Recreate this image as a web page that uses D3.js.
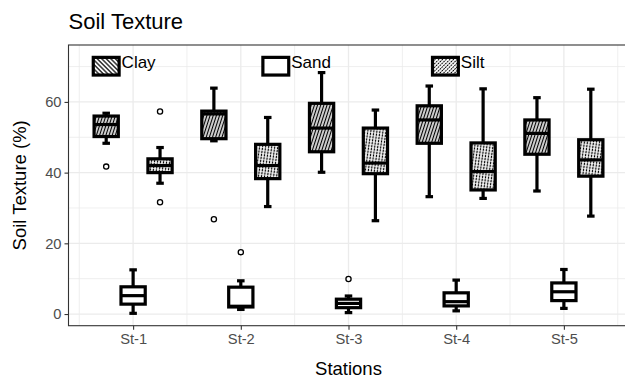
<!DOCTYPE html>
<html>
<head>
<meta charset="utf-8">
<script src="https://cdn.jsdelivr.net/npm/d3@7"></script>
<style>
  body { margin: 0; background: #fff; }
  #chart { width: 625px; height: 381px; }
  text { font-family: "Liberation Sans", Arial, sans-serif; }
</style>
</head>
<body>
<div id="chart"></div>
<script>
// datos
const stations = ['St-1', 'St-2', 'St-3', 'St-4', 'St-5'];
const seriesNames = ['Clay', 'Sand', 'Silt'];
const yTicks = [0, 20, 40, 60];

const clayLow  = [48.3, 49.0, 40.1, 33.2, 34.8];
const clayQ1   = [50.2, 49.6, 45.9, 48.3, 45.2];
const clayMed  = [53.6, 56.6, 52.6, 54.9, 51.1];
const clayQ3   = [56.0, 57.4, 59.6, 58.9, 54.9];
const clayHigh = [56.8, 63.9, 68.3, 64.5, 61.2];
const clayOut  = [[41.7], [26.8], [], [], []];

const sandLow  = [0.2, 1.3, 0.4, 0.9, 1.6];
const sandQ1   = [2.8, 2.0, 1.8, 2.3, 3.8];
const sandMed  = [5.2, 2.2, 3.0, 3.5, 6.3];
const sandQ3   = [7.7, 7.6, 4.2, 6.0, 8.8];
const sandHigh = [12.5, 9.4, 5.1, 9.6, 12.6];
const sandOut  = [[], [17.5], [9.9], [], []];

const siltLow  = [37.0, 30.4, 26.4, 32.7, 27.7];
const siltQ1   = [40.0, 38.3, 39.7, 35.1, 39.0];
const siltMed  = [42.0, 42.0, 42.7, 40.3, 43.6];
const siltQ3   = [43.9, 48.0, 52.6, 48.4, 49.3];
const siltHigh = [47.1, 55.6, 57.7, 63.7, 63.6];
const siltOut  = [[57.3, 31.6], [], [], [], []];

// posicion de las etiquetas tipo leyenda dentro del panel (unidades de datos)
const legendX = [0.75, 2.325, 3.9];
const legendY = [67.6, 72.6];

const stats = {
  Clay: { low: clayLow, q1: clayQ1, med: clayMed, q3: clayQ3, high: clayHigh, out: clayOut },
  Sand: { low: sandLow, q1: sandQ1, med: sandMed, q3: sandQ3, high: sandHigh, out: sandOut },
  Silt: { low: siltLow, q1: siltQ1, med: siltMed, q3: siltQ3, high: siltHigh, out: siltOut }
};

const W = 625, H = 381;
const panel = { left: 68.5, right: 628.5, top: 45, bottom: 325.7 };

const svg = d3.select('#chart').append('svg')
  .attr('width', W).attr('height', H);

// patrones
const defs = svg.append('defs');
function linePattern(id, spacing, angle, width, cross) {
  const p = defs.append('pattern')
    .attr('id', id)
    .attr('patternUnits', 'userSpaceOnUse')
    .attr('width', spacing).attr('height', cross ? cross : spacing)
    .attr('patternTransform', `rotate(${angle})`);
  p.append('rect').attr('width', spacing).attr('height', cross ? cross : spacing).attr('fill', '#fff');
  p.append('line').attr('x1', spacing / 2).attr('x2', spacing / 2)
    .attr('y1', 0).attr('y2', cross ? cross : spacing)
    .attr('stroke', '#000').attr('stroke-width', width);
  if (cross) {
    p.append('line').attr('y1', cross / 2).attr('y2', cross / 2)
      .attr('x1', 0).attr('x2', spacing)
      .attr('stroke', '#fff').attr('stroke-width', 0.7);
  }
}
linePattern('clayBox', 3.0, 18, 1.4, 0);
linePattern('siltBox', 3.0, 8, 1.3, 3.0);
linePattern('clayKey', 3.2, -45, 1.2, 0);
linePattern('siltKey', 2.6, 45, 1.0, 2.6);

const boxFill = { Clay: 'url(#clayBox)', Sand: '#fff', Silt: 'url(#siltBox)' };
const keyFill = { Clay: 'url(#clayKey)', Sand: '#fff', Silt: 'url(#siltKey)' };

const x = d3.scaleLinear().domain([0.4, 5.6]).range([panel.left, panel.right]);
const y = d3.scaleLinear().domain([-3.3, 76.1]).range([panel.bottom, panel.top]);

const g = svg.append('g');

// rejilla
const minorY = [10, 30, 50, 70];
const minorX = d3.range(0.5, 6, 1);
g.selectAll('.gminy').data(minorY).enter().append('line')
  .attr('x1', panel.left).attr('x2', panel.right)
  .attr('y1', d => y(d)).attr('y2', d => y(d))
  .attr('stroke', '#ebebeb').attr('stroke-width', 0.8);
g.selectAll('.gminx').data(minorX).enter().append('line')
  .attr('y1', panel.top).attr('y2', panel.bottom)
  .attr('x1', d => x(d)).attr('x2', d => x(d))
  .attr('stroke', '#ebebeb').attr('stroke-width', 0.8);
g.selectAll('.gmajy').data(yTicks).enter().append('line')
  .attr('x1', panel.left).attr('x2', panel.right)
  .attr('y1', d => y(d)).attr('y2', d => y(d))
  .attr('stroke', '#ebebeb').attr('stroke-width', 1.3);
g.selectAll('.gmajx').data(stations).enter().append('line')
  .attr('y1', panel.top).attr('y2', panel.bottom)
  .attr('x1', (d, i) => x(i + 1)).attr('x2', (d, i) => x(i + 1))
  .attr('stroke', '#ebebeb').attr('stroke-width', 1.3);

// cajas
const dodge = 0.25, boxW = 0.225, capW = 0.07, lw = 3.2;
seriesNames.forEach((name, si) => {
  const s = stats[name];
  stations.forEach((st, i) => {
    const cx = i + 1 + (si - 1) * dodge;
    const bg = g.append('g');
    // bigotes
    bg.append('line').attr('x1', x(cx)).attr('x2', x(cx))
      .attr('y1', y(s.high[i])).attr('y2', y(s.low[i]))
      .attr('stroke', '#000').attr('stroke-width', lw);
    [s.high[i], s.low[i]].forEach(v => {
      bg.append('line').attr('x1', x(cx - capW / 2)).attr('x2', x(cx + capW / 2))
        .attr('y1', y(v)).attr('y2', y(v))
        .attr('stroke', '#000').attr('stroke-width', lw);
    });
    bg.append('rect')
      .attr('x', x(cx - boxW / 2)).attr('width', x(cx + boxW / 2) - x(cx - boxW / 2))
      .attr('y', y(s.q3[i])).attr('height', y(s.q1[i]) - y(s.q3[i]))
      .attr('fill', boxFill[name]).attr('stroke', '#000').attr('stroke-width', lw);
    bg.append('line').attr('x1', x(cx - boxW / 2)).attr('x2', x(cx + boxW / 2))
      .attr('y1', y(s.med[i])).attr('y2', y(s.med[i]))
      .attr('stroke', '#000').attr('stroke-width', lw);
    bg.selectAll('circle').data(s.out[i]).enter().append('circle')
      .attr('cx', x(cx)).attr('cy', d => y(d)).attr('r', 2.6)
      .attr('fill', '#fff').attr('stroke', '#000').attr('stroke-width', 1.3);
  });
});

// leyenda dentro del panel
const keyW = 0.24;
seriesNames.forEach((name, i) => {
  g.append('rect')
    .attr('x', x(legendX[i] - keyW / 2)).attr('width', x(legendX[i] + keyW / 2) - x(legendX[i] - keyW / 2))
    .attr('y', y(legendY[1])).attr('height', y(legendY[0]) - y(legendY[1]))
    .attr('fill', keyFill[name]).attr('stroke', '#000').attr('stroke-width', lw);
  g.append('text')
    .attr('x', x(legendX[i] + keyW / 2) + 2.5).attr('y', y(legendY[1]) + 11)
    .attr('font-size', '17px').attr('fill', '#000')
    .text(name);
});

// borde del panel
svg.append('rect')
  .attr('x', panel.left).attr('y', panel.top)
  .attr('width', panel.right - panel.left).attr('height', panel.bottom - panel.top)
  .attr('fill', 'none').attr('stroke', '#333').attr('stroke-width', 1.1);

// ejes
const yAxis = svg.append('g').attr('transform', `translate(${panel.left},0)`)
  .call(d3.axisLeft(y).tickValues(yTicks).tickSize(4).tickPadding(3));
const xAxis = svg.append('g').attr('transform', `translate(0,${panel.bottom})`)
  .call(d3.axisBottom(x).tickValues(d3.range(1, 6)).tickFormat(d => stations[d - 1]).tickSize(4).tickPadding(4));
[xAxis, yAxis].forEach(a => {
  a.select('.domain').remove();
  a.selectAll('line').attr('stroke', '#333').attr('stroke-width', 1.1);
  a.selectAll('text').attr('fill', '#4d4d4d').style('font-size', '14.7px')
    .style('font-family', '"Liberation Sans", Arial, sans-serif');
});

// titulos
svg.append('text').attr('x', panel.left).attr('y', 29)
  .attr('font-size', '22px').attr('fill', '#000').text('Soil Texture');
svg.append('text').attr('x', (panel.left + panel.right) / 2).attr('y', 375)
  .attr('text-anchor', 'middle').attr('font-size', '18.5px').attr('fill', '#000').text('Stations');
svg.append('text')
  .attr('transform', `translate(26,${(panel.top + panel.bottom) / 2}) rotate(-90)`)
  .attr('text-anchor', 'middle').attr('font-size', '18.5px').attr('fill', '#000')
  .text('Soil Texture (%)');
</script>
</body>
</html>
